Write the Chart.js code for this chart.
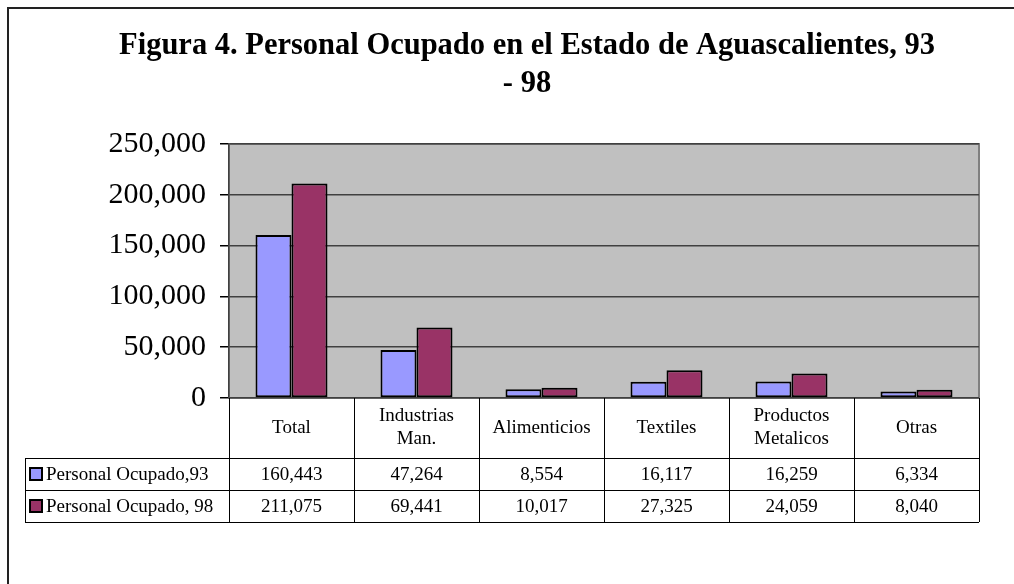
<!DOCTYPE html>
<html lang="es">
<head>
    <meta charset="UTF-8">
    <title>Personal Ocupado en el Estado de Aguascalientes</title>
    <style>
body, html {
    margin: 0;
    padding: 0;
    width: 1014px;
    height: 584px;
    overflow: hidden;
    background-color: #ffffff;
}

#frame {
    position: absolute;
    left: 7px;
    top: 7px;
    width: 1100px;
    height: 700px;
    border: 2px solid #222;
    box-sizing: border-box;
}

#ocupadoChart {
    position: absolute;
    left: 0;
    top: 0;
}
    </style>
    <script src="https://cdn.jsdelivr.net/npm/chart.js"></script>
</head>
<body>
    <div id="frame"></div>
    <canvas id="ocupadoChart" width="1058" height="584"></canvas>

    <script>
        // datos
        const categories = [['Total'], ['Industrias', 'Man.'], ['Alimenticios'], ['Textiles'], ['Productos', 'Metalicos'], ['Otras']];
        const seriesNames = ['Personal Ocupado,93', 'Personal Ocupado, 98'];
        const ocupado93 = [160443, 47264, 8554, 16117, 16259, 6334];
        const ocupado98 = [211075, 69441, 10017, 27325, 24059, 8040];
        const yTicks = [0, 50000, 100000, 150000, 200000, 250000];

        const fmt = v => v.toLocaleString('en-US');
        const serif = "'Liberation Serif', 'Times New Roman', serif";

        // fondo gris del area de trazado
        const plotBackground = {
            id: 'plotBackground',
            beforeDraw(chart) {
                const { ctx, chartArea: a } = chart;
                ctx.save();
                ctx.fillStyle = '#c0c0c0';
                ctx.fillRect(a.left, a.top, a.right - a.left, a.bottom - a.top);
                ctx.strokeStyle = '#808080';
                ctx.lineWidth = 2;
                ctx.strokeRect(a.left, a.top, a.right - a.left, a.bottom - a.top);
                ctx.restore();
            }
        };

        // tabla de datos debajo del eje
        const dataTable = {
            id: 'dataTable',
            afterDraw(chart) {
                const { ctx, chartArea: a } = chart;
                const x = chart.scales.x;
                const half = (x.getPixelForValue(1) - x.getPixelForValue(0)) / 2;
                const headTop = a.bottom;
                const headBottom = headTop + 60;
                const rowH = 32;
                const tableBottom = headBottom + 2 * rowH;
                const legendLeft = 25;

                ctx.save();
                ctx.strokeStyle = '#000';
                ctx.lineWidth = 1;
                ctx.beginPath();
                // lineas verticales
                for (let i = 0; i <= categories.length; i++) {
                    const px = Math.round(x.getPixelForValue(i) - half) + 0.5;
                    ctx.moveTo(px, headTop);
                    ctx.lineTo(px, tableBottom);
                }
                ctx.moveTo(legendLeft + 0.5, headBottom);
                ctx.lineTo(legendLeft + 0.5, tableBottom);
                // lineas horizontales
                for (let r = 0; r <= 2; r++) {
                    const py = Math.round(headBottom + r * rowH) + 0.5;
                    ctx.moveTo(legendLeft, py);
                    ctx.lineTo(a.right, py);
                }
                ctx.stroke();

                ctx.fillStyle = '#000';
                ctx.font = '19px ' + serif;
                ctx.textAlign = 'center';
                ctx.textBaseline = 'middle';
                const lineH = 23;
                categories.forEach((lines, i) => {
                    const cx = x.getPixelForValue(i);
                    const cy = (headTop + headBottom) / 2;
                    const y0 = cy - (lines.length - 1) * lineH / 2;
                    lines.forEach((t, k) => ctx.fillText(t, cx, y0 + k * lineH));
                });

                chart.data.datasets.forEach((ds, r) => {
                    const cy = headBottom + r * rowH + rowH / 2;
                    ds.data.forEach((v, i) => {
                        ctx.fillStyle = '#000';
                        ctx.textAlign = 'center';
                        ctx.fillText(fmt(v), x.getPixelForValue(i), cy + 1);
                    });
                    // clave de leyenda
                    ctx.fillStyle = ds.backgroundColor;
                    ctx.fillRect(30, cy - 6, 12, 12);
                    ctx.lineWidth = 2;
                    ctx.strokeStyle = '#000';
                    ctx.strokeRect(30, cy - 6, 12, 12);
                    ctx.fillStyle = '#000';
                    ctx.textAlign = 'left';
                    ctx.fillText(ds.label, 46, cy + 1);
                });
                ctx.restore();
            }
        };

        const ctx = document.getElementById('ocupadoChart').getContext('2d');
        new Chart(ctx, {
            type: 'bar',
            data: {
                labels: categories,
                datasets: [{
                    label: seriesNames[0],
                    data: ocupado93,
                    backgroundColor: '#9999ff',
                    borderColor: '#000',
                    borderWidth: 2,
                    borderSkipped: false
                }, {
                    label: seriesNames[1],
                    data: ocupado98,
                    backgroundColor: '#993366',
                    borderColor: '#000',
                    borderWidth: 2,
                    borderSkipped: false
                }]
            },
            options: {
                responsive: false,
                animation: false,
                devicePixelRatio: 1,
                layout: {
                    padding: { left: 75, right: 79, top: 0, bottom: 186 }
                },
                datasets: {
                    bar: { categoryPercentage: 0.576, barPercentage: 1.0 }
                },
                plugins: {
                    legend: { display: false },
                    tooltip: { enabled: false },
                    title: {
                        display: true,
                        text: ['Figura 4. Personal Ocupado en el Estado de Aguascalientes, 93', '- 98'],
                        color: '#000',
                        font: { family: serif, size: 30.5, weight: 'bold', lineHeight: 1.246 },
                        padding: { top: 27, bottom: 41 }
                    }
                },
                scales: {
                    x: {
                        display: false
                    },
                    y: {
                        min: 0,
                        max: 250000,
                        afterFit(scale) { scale.width = 154; },
                        afterBuildTicks(scale) { scale.ticks = yTicks.map(v => ({ value: v })); },
                        ticks: {
                            color: '#000',
                            padding: 14,
                            font: { family: serif, size: 30 },
                            callback: v => fmt(v)
                        },
                        grid: {
                            color: '#404040',
                            lineWidth: 1.5,
                            tickLength: 9,
                            tickColor: '#000'
                        },
                        border: { color: '#404040', width: 1.5 }
                    }
                }
            },
            plugins: [plotBackground, dataTable]
        });
    </script>
</body>
</html>
